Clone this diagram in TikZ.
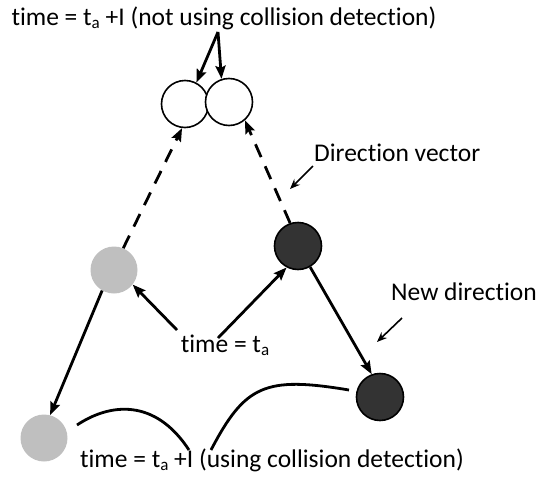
\documentclass[tikz,border=0pt]{standalone}
\usepackage{fontspec}
\setmainfont{Carlito}[RawFeature={-liga}]
\usetikzlibrary{arrows.meta}
\newcommand\subA{\raisebox{-0.25ex}{\fontsize{17}{17}\selectfont a}}
\begin{document}
\begin{tikzpicture}[x=1pt,y=-1pt,
  lbl/.style={font=\fontsize{25.5}{30}\selectfont, inner sep=0pt},
  ball/.style={circle, minimum size=47pt, inner sep=0pt},
  whiteball/.style={ball, draw=black, line width=1.6pt, fill=white},
  grayball/.style={ball, fill=black!25},
  darkball/.style={ball, draw=black, line width=1.6pt, fill=black!80},
  conn/.style={line width=2.8pt, -{Stealth[length=13pt,width=10pt,inset=2pt]}},
  dashconn/.style={conn, dash pattern=on 14pt off 10pt},
  curve/.style={line width=2.8pt}
]
\useasboundingbox (0,0) rectangle (544,477);
% balls
\node[grayball] (gm) at (114,270) {};
\node[darkball] (du) at (298,246) {};
\node[grayball] (gb) at (44,438) {};
\node[darkball] (dl) at (380,397) {};
\node[whiteball] (wl) at (185,104) {};
\node[whiteball] (wr) at (229,102) {};
% labels
\node[lbl] (top) at (224,18) {time = t\subA{} +I (not using collision detection)};
\node[lbl] (mid) at (225,345) {time = t\subA};
\node[lbl] (bot) at (272,460) {time = t\subA{} +I (using collision detection)};
\node[lbl, anchor=west] (dv) at (314,153) {Direction vector};
\node[lbl, anchor=west] (nd) at (391,292) {New direction};
% top arrows
\coordinate (apex) at (218,32);
\draw[conn] (apex) -- (wl.62);
\draw[conn] (apex) -- (wr.108);
% dashed arrows
\draw[dashconn] (gm.67) -- (wl.-97);
\draw[dashconn] (du.109) -- (wr.-49);
% arrows from time = ta
\coordinate (m1) at (177,330);
\coordinate (m2) at (218,338);
\draw[conn] (m1) -- (gm.-38);
\draw[conn] (m2) -- (du.-118);
% downward arrows
\draw[conn] (gm.-120) -- (gb.75);
\draw[conn] (du.-60) -- (dl.110);
% label arrows
\coordinate (dvs) at (313,166);
\coordinate (dve) at (290,189);
\draw[line width=1.6pt, -{Stealth[length=10pt,width=8pt]}] (dvs) -- (dve);
\coordinate (nds) at (402,318);
\coordinate (nde) at (377,342);
\draw[line width=1.6pt, -{Stealth[length=10pt,width=8pt]}] (nds) -- (nde);
% curves
\coordinate (c1a) at (77,425);
\coordinate (c1b) at (189,450);
\draw[curve] (c1a) .. controls (110,403) and (155,398) .. (c1b);
\coordinate (c2a) at (211,450);
\coordinate (c2b) at (349,390);
\draw[curve] (c2a) .. controls (245,385) and (265,376) .. (c2b);
\end{tikzpicture}
\end{document}
